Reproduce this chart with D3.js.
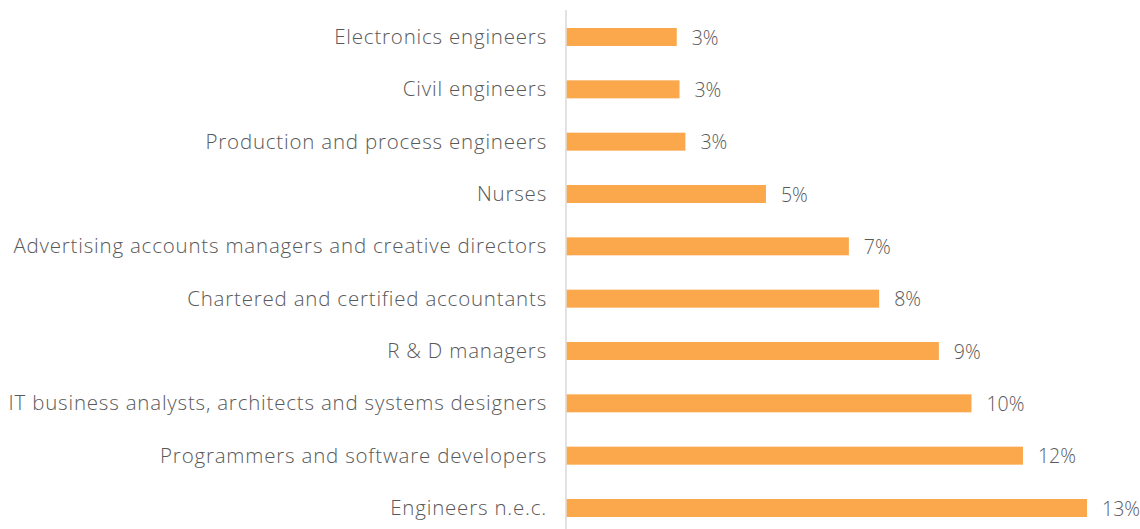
<!DOCTYPE html>
<html><head><meta charset="utf-8">
<script src="https://cdn.jsdelivr.net/npm/d3@7"></script>
<style>body{margin:0;background:#fff;} text{font-family:"Open Sans",Lato,sans-serif;}</style>
</head><body>
<svg id="c" width="1140" height="529"></svg>
<script>
const categories = ["Electronics engineers","Civil engineers","Production and process engineers","Nurses","Advertising accounts managers and creative directors","Chartered and certified accountants","R & D managers","IT business analysts, architects and systems designers","Programmers and software developers","Engineers n.e.c."];
const values = [2.8, 2.87, 3.02, 5.07, 7.18, 7.95, 9.47, 10.3, 11.61, 13.24];
const valueLabels = ["3%","3%","3%","5%","7%","8%","9%","10%","12%","13%"];

const svg = d3.select("#c");
const x0 = 566.7;
const x = d3.scaleLinear().domain([0,14]).range([x0, x0 + 39.3*14]);
const y = d3.scalePoint().domain(categories).range([37, 508]);
const barH = 18;

svg.append("line").attr("x1",566).attr("x2",566).attr("y1",10).attr("y2",529)
  .attr("stroke","#d9d9d9").attr("stroke-width",1.5);

svg.selectAll("rect.bar").data(categories).join("rect")
  .attr("x", x(0)).attr("y", d => y(d) - barH/2)
  .attr("width", (d,i) => x(values[i]) - x(0)).attr("height", barH)
  .attr("fill","#fba74b");

svg.selectAll("text.cat").data(categories).join("text")
  .attr("x", 547).attr("y", d => y(d) - 1).attr("text-anchor","end")
  .attr("dominant-baseline","central").attr("font-size",20.5).attr("font-weight",300)
  .attr("letter-spacing","0.8px")
  .attr("fill","#595959").text(d => d);

svg.selectAll("text.val").data(categories).join("text")
  .attr("x", (d,i) => x(values[i]) + 15).attr("y", d => y(d))
  .attr("dominant-baseline","central").attr("font-size",19.5).attr("font-weight",300)
  .attr("fill","#595959").text((d,i) => valueLabels[i]);
</script>
</body></html>
